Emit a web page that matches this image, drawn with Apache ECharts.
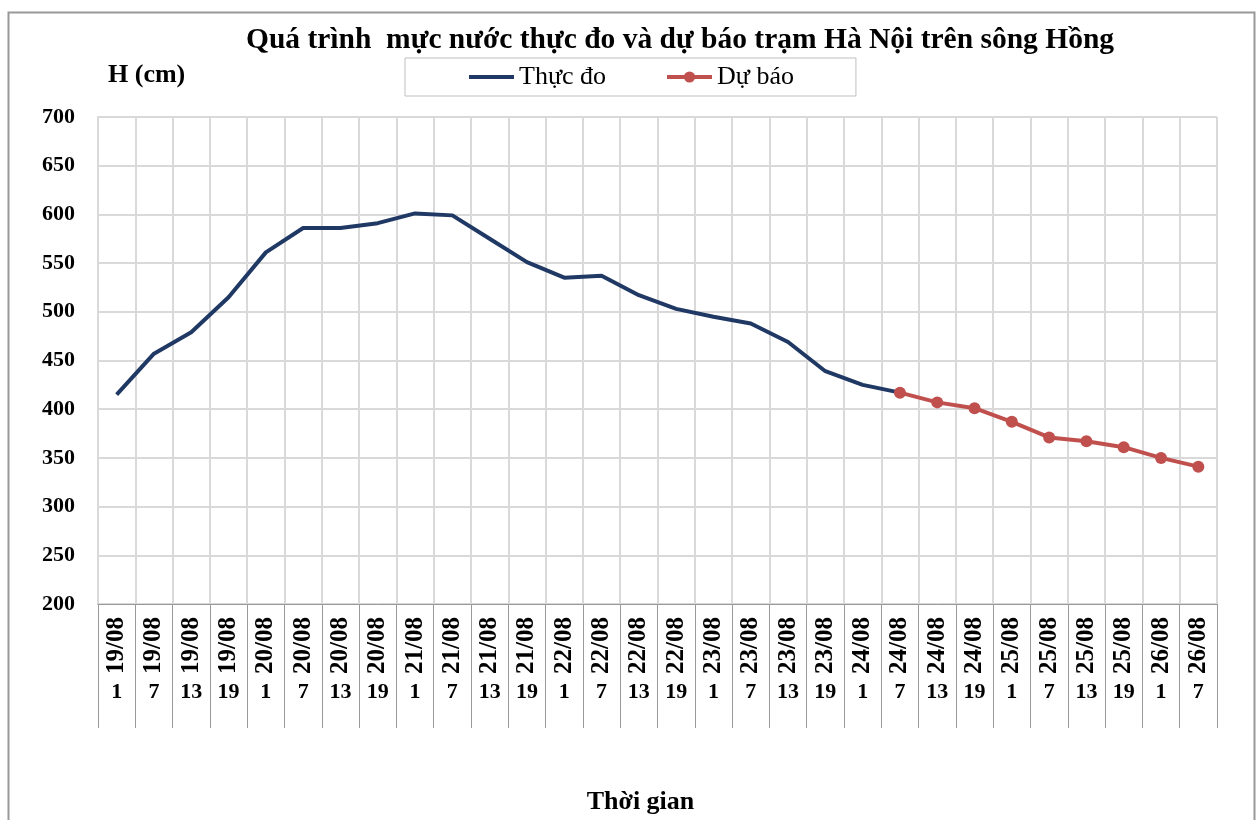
<!DOCTYPE html>
<html>
<head>
	<meta charset="UTF-8">
	<title>Mực nước Hà Nội</title>
	<style>
		html, body { margin: 0; padding: 0; background: #fff; }
		#main { width: 1259px; height: 820px; }
	</style>
</head>
<body>
	<div id="main"></div>
	<script src="https://cdn.jsdelivr.net/npm/echarts@6/dist/echarts.min.js"></script>
	<script>
		// trục thời gian: ngày + giờ
		var days = ['19/08', '19/08', '19/08', '19/08', '20/08', '20/08', '20/08', '20/08',
			'21/08', '21/08', '21/08', '21/08', '22/08', '22/08', '22/08', '22/08',
			'23/08', '23/08', '23/08', '23/08', '24/08', '24/08', '24/08', '24/08',
			'25/08', '25/08', '25/08', '25/08', '26/08', '26/08'];
		var hours = ['1', '7', '13', '19', '1', '7', '13', '19', '1', '7', '13', '19',
			'1', '7', '13', '19', '1', '7', '13', '19', '1', '7', '13', '19',
			'1', '7', '13', '19', '1', '7'];
		// mực nước thực đo (cm)
		var thucDo = [415, 457, 479, 515, 561, 586, 586, 591, 601, 599, 575, 551,
			535, 537, 517, 503, 495, 488, 469, 439, 425, 417,
			null, null, null, null, null, null, null, null];
		// mực nước dự báo (cm)
		var duBao = [null, null, null, null, null, null, null, null, null, null, null, null,
			null, null, null, null, null, null, null, null, null, 417,
			407, 401, 387, 371, 367, 361, 350, 341];
		var yTicks = { min: 200, max: 700, step: 50 };

		var font = "'Liberation Serif', 'Times New Roman', serif";
		var app = echarts.init(document.getElementById('main'));
		var option = {
			backgroundColor: '#fff',
			animation: false,
			textStyle: { fontFamily: font },
			title: {
				text: 'Quá trình  mực nước thực đo và dự báo trạm Hà Nội trên sông Hồng',
				left: 675,
				textAlign: 'center',
				top: 20,
				textStyle: { fontFamily: font, fontSize: 29.5, fontWeight: 'bold', color: '#000' }
			},
			legend: {
				left: 405,
				top: 58,
				padding: [6, 62, 6, 62],
				itemGap: 59,
				itemWidth: 45,
				itemHeight: 14,
				borderColor: '#bfbfbf',
				borderWidth: 1,
				lineStyle: { width: 4 },
				textStyle: { fontFamily: font, fontSize: 26, color: '#000' },
				data: [{ name: 'Thực đo', itemStyle: { opacity: 0 } }, 'Dự báo']
			},
			grid: { left: 98, right: 42, top: 117, bottom: 213, containLabel: false },
			xAxis: [{
				type: 'category',
				position: 'bottom',
				boundaryGap: true,
				data: days,
				axisLine: { lineStyle: { color: '#999', width: 1 } },
				axisTick: { show: true, interval: 0, length: 124, lineStyle: { color: '#999' } },
				axisLabel: {
					interval: 0, rotate: 90, margin: 13,
					fontFamily: font, fontSize: 25, fontWeight: 'bold', color: '#000'
				},
				splitLine: { show: true, interval: 0, lineStyle: { color: '#d9d9d9', width: 2 } }
			}, {
				type: 'category',
				position: 'bottom',
				boundaryGap: true,
				data: hours,
				axisLine: { show: false },
				axisTick: { show: false },
				splitLine: { show: false },
				axisLabel: {
					interval: 0, margin: 77,
					fontFamily: font, fontSize: 22, fontWeight: 'bold', color: '#000'
				},
				name: 'Thời gian',
				nameLocation: 'middle',
				nameGap: 185,
				nameTextStyle: {
					fontFamily: font, fontSize: 26, fontWeight: 'bold', color: '#000',
					padding: [0, 34, 0, 0]
				}
			}],
			yAxis: {
				type: 'value',
				min: yTicks.min,
				max: yTicks.max,
				interval: yTicks.step,
				name: 'H (cm)',
				nameLocation: 'end',
				nameGap: 29,
				nameTextStyle: {
					fontFamily: font, fontSize: 26, fontWeight: 'bold', color: '#000',
					align: 'left', padding: [0, 0, 0, 10]
				},
				axisLine: { show: true, lineStyle: { color: '#d9d9d9', width: 2 } },
				axisTick: { show: false },
				axisLabel: { margin: 23, fontFamily: font, fontSize: 22, fontWeight: 'bold', color: '#000' },
				splitLine: { show: true, lineStyle: { color: '#d9d9d9', width: 2 } }
			},
			graphic: [{
				type: 'rect',
				left: 6,
				top: 10,
				shape: { width: 1246, height: 830 },
				style: { fill: null, stroke: '#999', lineWidth: 2 },
				z: -1
			}],
			series: [{
				name: 'Thực đo',
				type: 'line',
				xAxisIndex: 0,
				symbol: 'none',
				connectNulls: false,
				lineStyle: { color: '#1f3864', width: 4 },
				itemStyle: { color: '#1f3864' },
				data: thucDo
			}, {
				name: 'Dự báo',
				type: 'line',
				xAxisIndex: 0,
				symbol: 'circle',
				symbolSize: 12,
				showSymbol: true,
				lineStyle: { color: '#c0504d', width: 4 },
				itemStyle: { color: '#c0504d' },
				data: duBao
			}]
		};
		app.setOption(option);
		window.addEventListener('resize', function () { app.resize(); });
	</script>
</body>
</html>
